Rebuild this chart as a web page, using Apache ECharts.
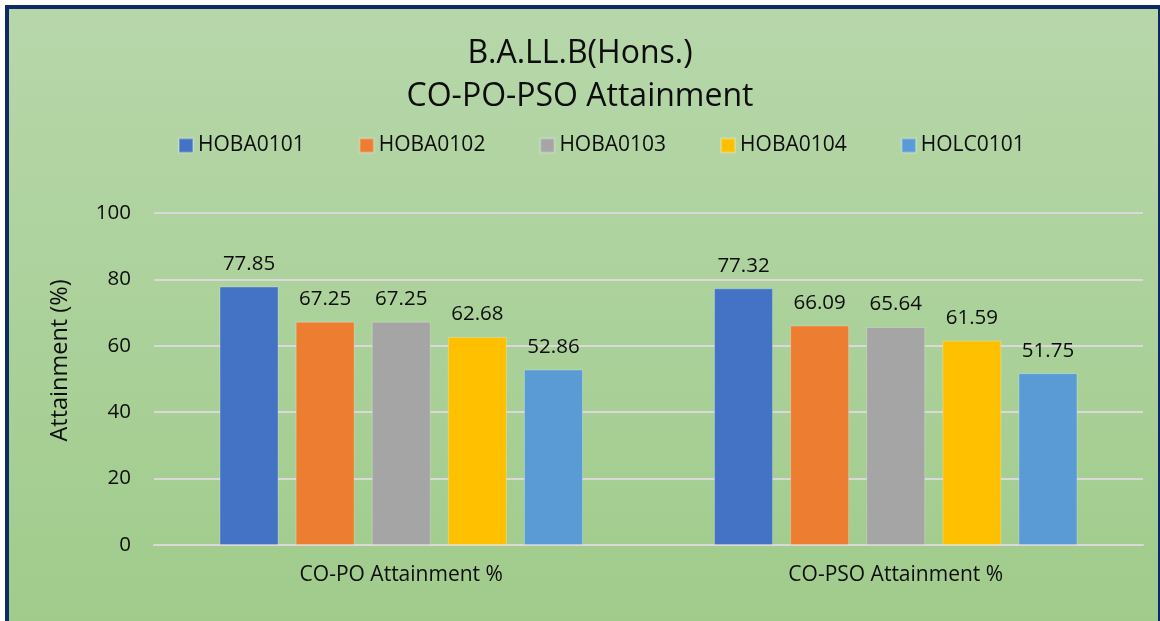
<!DOCTYPE html>
<html>
<head>
<meta charset="utf-8">
<script src="https://cdn.jsdelivr.net/npm/echarts@6/dist/echarts.min.js"></script>
<style>
  html, body { margin: 0; padding: 0; background: #fff; }
  .frame {
    position: absolute; left: 5px; top: 5px; width: 1149px; height: 640px;
    border: 4px solid #0c2a66;
    background: linear-gradient(#b7d7aa, #9fcb8a);
  }
  #main { position: absolute; left: 0; top: 0; width: 1160px; height: 621px; }
</style>
</head>
<body>
<div class="frame"></div>
<div id="main"></div>
<script>
// categories on the x axis
const categories = ["CO-PO Attainment %", "CO-PSO Attainment %"];
// one array per course
const hoba0101 = [77.85, 77.32];
const hoba0102 = [67.25, 66.09];
const hoba0103 = [67.25, 65.64];
const hoba0104 = [62.68, 61.59];
const holc0101 = [52.86, 51.75];
const yTicks = [0, 20, 40, 60, 80, 100];

const seriesList = [
  { name: "HOBA0101", data: hoba0101, color: "#4472C4" },
  { name: "HOBA0102", data: hoba0102, color: "#ED7D31" },
  { name: "HOBA0103", data: hoba0103, color: "#A5A5A5" },
  { name: "HOBA0104", data: hoba0104, color: "#FFC000" },
  { name: "HOLC0101", data: holc0101, color: "#5B9BD5" },
];

const font = "'Open Sans', 'Noto Sans', sans-serif";
const textColor = "#0d0d0d";

const myChart = echarts.init(document.getElementById("main"));
const option = {
  animation: false,
  backgroundColor: "transparent",
  title: {
    text: "B.A.LL.B(Hons.)\nCO-PO-PSO Attainment",
    left: "center",
    top: 32,
    padding: 0,
    textStyle: {
      fontFamily: font,
      fontSize: 32,
      fontWeight: "normal",
      lineHeight: 43,
      color: textColor,
    },
  },
  legend: {
    left: 178,
    top: 135,
    padding: 0,
    itemWidth: 14,
    itemHeight: 14,
    itemGap: 54,
    icon: "rect",
    textStyle: { fontFamily: font, fontSize: 21, lineHeight: 20, color: textColor },
    data: seriesList.map((s) => s.name),
  },
  grid: { left: 154, right: 17, top: 213, bottom: 76 },
  xAxis: {
    type: "category",
    data: categories,
    axisTick: { show: false },
    axisLine: { show: true, lineStyle: { color: "#d9d9d9", width: 2 } },
    axisLabel: { fontFamily: font, fontSize: 21, color: textColor, margin: 20 },
  },
  yAxis: {
    type: "value",
    min: yTicks[0],
    max: yTicks[yTicks.length - 1],
    interval: 20,
    name: "Attainment (%)",
    nameLocation: "middle",
    nameRotate: 90,
    nameGap: 82,
    nameTextStyle: {
      fontFamily: font,
      fontSize: 23.5,
      color: textColor,
      padding: [0, 0, 0, 37],
    },
    axisLine: { show: false },
    axisTick: { show: false },
    axisLabel: { fontFamily: font, fontSize: 20.5, color: textColor, margin: 23 },
    splitLine: { lineStyle: { color: "#d9d9d9", width: 2 } },
  },
  series: seriesList.map((s) => ({
    name: s.name,
    type: "bar",
    data: s.data,
    barWidth: 59,
    barGap: "29%",
    itemStyle: { color: s.color, borderColor: "rgba(255,255,255,0.25)", borderWidth: 1 },
    label: {
      show: true,
      position: "top",
      distance: 12,
      fontFamily: font,
      fontSize: 20.5,
      color: textColor,
    },
  })),
};

option && myChart.setOption(option);
</script>
</body>
</html>
